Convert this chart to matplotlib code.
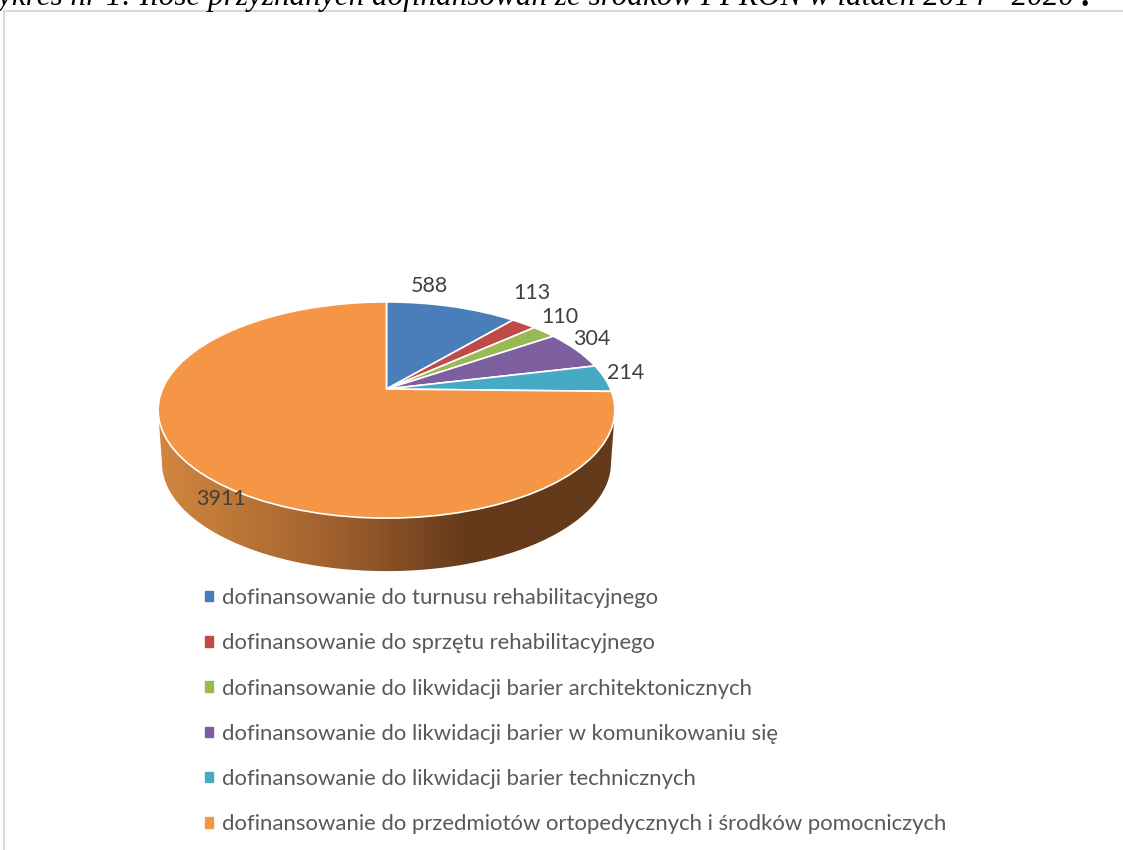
import numpy as np
import matplotlib
matplotlib.use('Agg')
import matplotlib.pyplot as plt
from matplotlib.colors import LinearSegmentedColormap
from matplotlib.patches import Patch, Polygon
from matplotlib.transforms import Transform

etykiety = ['dofinansowanie do turnusu rehabilitacyjnego',
            'dofinansowanie do sprzętu rehabilitacyjnego',
            'dofinansowanie do likwidacji barier architektonicznych',
            'dofinansowanie do likwidacji barier w komunikowaniu się',
            'dofinansowanie do likwidacji barier technicznych',
            'dofinansowanie do przedmiotów ortopedycznych i środków pomocniczych']
wartosci = [588, 113, 110, 304, 214, 3911]
kolory = ['#4a7ebb', '#be4b48', '#98b954', '#7d5fa0', '#46aac5', '#f59646']
tytul = 'Wykres nr 1: Ilość przyznanych dofinansowań ze środków PFRON w latach 2014 - 2020'

# polozenie opisow wartosci w pikselach
pozycje_opisow = [(429, 286), (532, 293), (560, 317), (592, 339), (626, 373), (221, 499)]

W, H = 1123, 850
# perspektywa tortu
CX, CY = 386.5, 389
RX, RY, K = 224, 104, 0.1945
GLEBOKOSC, SKALA_DOL = 53, 0.983


class Perspektywa(Transform):
    input_dims = 2
    output_dims = 2

    def transform_non_affine(self, punkty):
        punkty = np.asarray(punkty)
        w = 1 + K*punkty[:, 1]
        return np.column_stack((CX + RX*punkty[:, 0]/w, CY - RY*punkty[:, 1]/w))


fig = plt.figure(figsize=(W/100, H/100), dpi=100)
ax = fig.add_axes([0, 0, 1, 1])
plt.rcParams['font.family'] = ['Lato', 'DejaVu Sans']

wycinki, _ = ax.pie(wartosci, colors=kolory, startangle=90, counterclock=False,
                    wedgeprops={'edgecolor': 'white', 'linewidth': 1.2, 'zorder': 3})
perspektywa = Perspektywa()
for w in wycinki:
    w.set_transform(perspektywa + ax.transData)

# bok tortu
t = np.linspace(np.pi + 0.2, 2*np.pi - 0.2, 200)
gora = perspektywa.transform_non_affine(np.column_stack((np.cos(t), np.sin(t))))
dol = gora.copy()
dol[:, 0] = CX + (dol[:, 0] - CX)*SKALA_DOL
dol[:, 1] = dol[:, 1] + GLEBOKOSC
obrys = Polygon(np.vstack((dol, gora[::-1])), closed=True, transform=ax.transData,
                facecolor='none', edgecolor='none')
ax.add_patch(obrys)
cmap = LinearSegmentedColormap.from_list('bok', [(0, '#d2873f'), (0.35, '#a5642f'),
                                                  (0.68, '#653a1b'), (1, '#633a1a')])
gradient = ax.imshow(np.linspace(0, 1, 256).reshape(1, -1), cmap=cmap, aspect='auto',
                     extent=(158, 615, 575, 400), zorder=2)
gradient.set_clip_path(obrys)

for wartosc, (x, y) in zip(wartosci, pozycje_opisow):
    ax.text(x, y, str(wartosc), fontsize=15.5, color='#404040', ha='center', va='center', zorder=5)

# ramka wykresu i tytul uciety u gory
ax.plot([3.5, 3.5, W], [H, 10.5, 10.5], color='#d9d9d9', linewidth=1.5, zorder=1)
ax.text(-25, 5, tytul, family='Liberation Serif', style='italic', fontsize=22.4, color='black',
        ha='left', va='baseline')
ax.text(1080, 6, '.', family='Liberation Serif', weight='bold', fontsize=24, color='black',
        ha='left', va='baseline')

uchwyty = [Patch(color=k) for k in kolory]
ax.legend(uchwyty, etykiety, loc='upper left', bbox_to_anchor=(194/W, 1 - 577/H), frameon=False,
          fontsize=15.95, labelcolor='#595959', handlelength=0.36, handleheight=0.36,
          handletextpad=0.40, labelspacing=1.14, borderpad=0.5, borderaxespad=0)

ax.set_xlim(0, W)
ax.set_ylim(H, 0)
ax.set_aspect('auto')
ax.axis('off')
fig.savefig('out.png', dpi=100)
